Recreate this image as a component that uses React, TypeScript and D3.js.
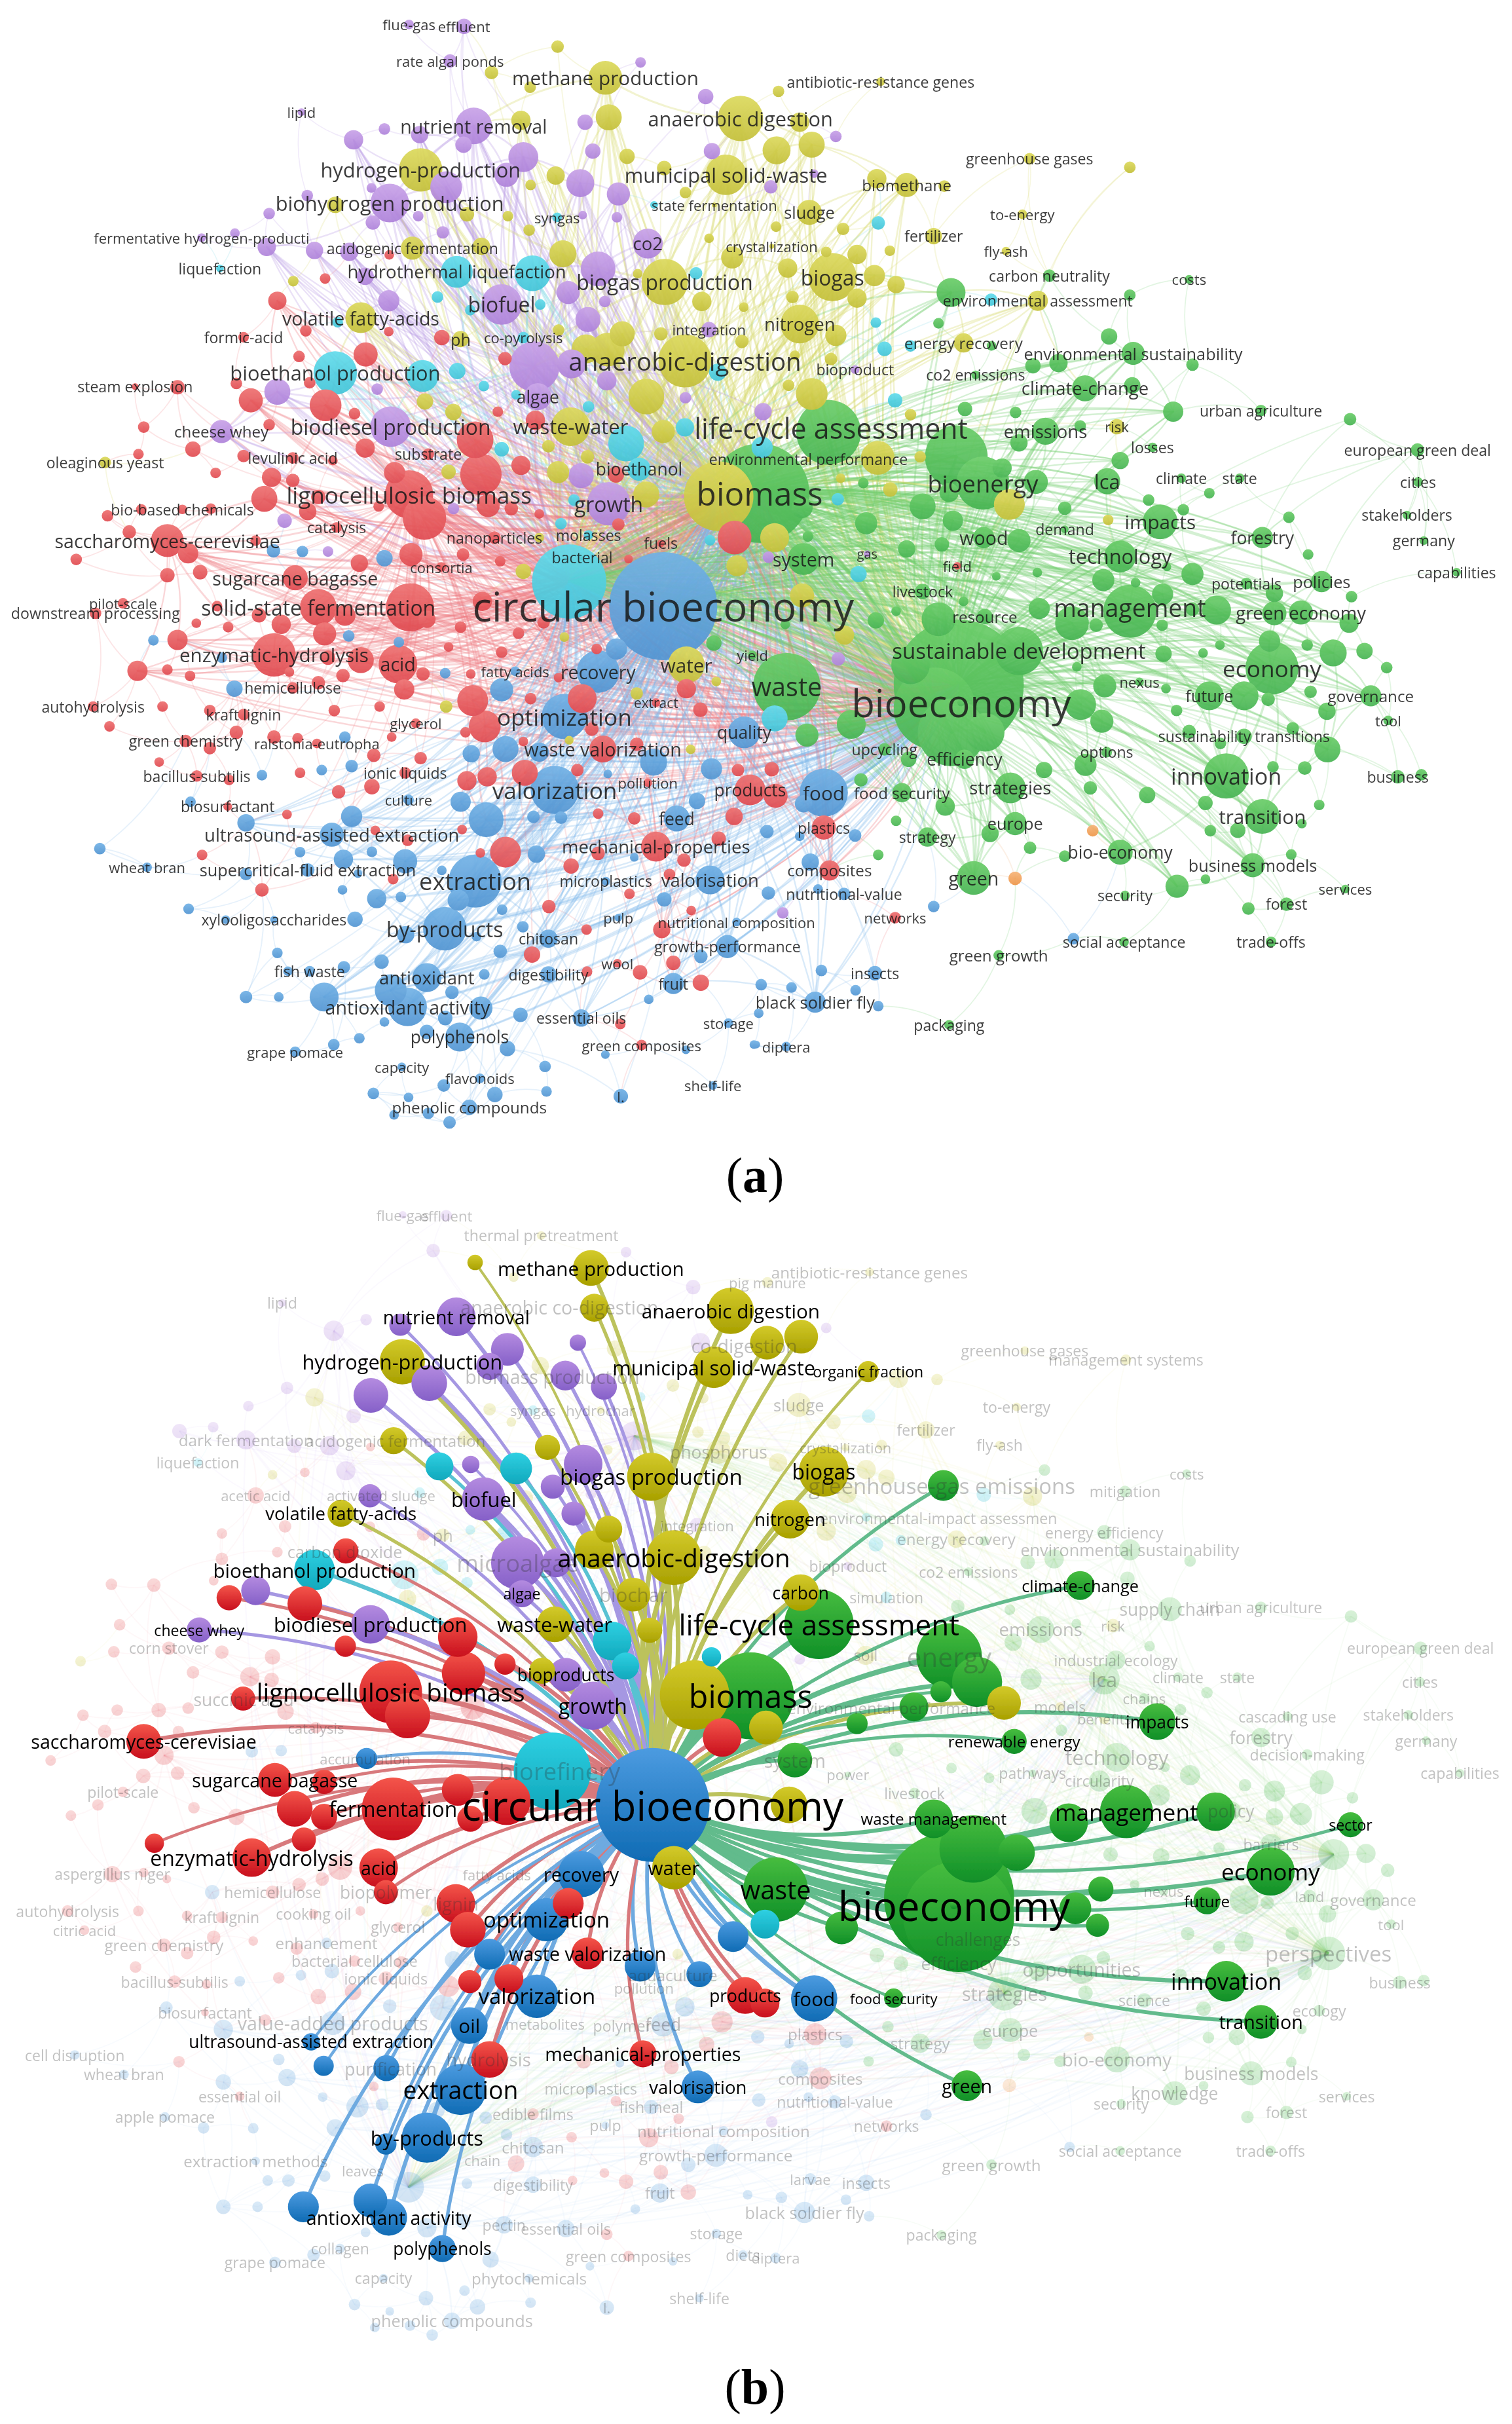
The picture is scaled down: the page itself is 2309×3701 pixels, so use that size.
import { useMemo } from "react";
import * as d3 from "d3";

// VOSviewer keyword map. Each row: cluster, map x, map y, node weight, keyword, label weight.
// Map units are one reading grid per sheet; see sheet() below.
type Row = [string, number, number, number, string?, number?];

const aNW: Row[] = [
  ["p",848,65,10,"flue-gas",20],["p",962,70,16,"effluent",20],["p",933,162,14,"rate algal ponds",20],["y",1156,124,13],["p",1328,166,11],["y",1019,193,14],
  ["y",1255,207,35,"methane production",27],["y",1099,232,12],["p",1463,257,16],["y",1262,312,27],["p",1213,325,16],["y",1535,315,47,"anaerobic digestion",28],["y",1080,320,20],
  ["p",625,298,8,"lipid",20],["p",797,343,12],["p",982,335,38,"nutrient removal",26],["p",870,358,18],["p",733,372,20],["p",961,385,17],["p",1085,418,31],["p",1229,402,16],["p",1476,402,17],["y",1300,416,16],
  ["y",872,452,45,"hydrogen-production",28],["p",925,498,33],["p",1050,465,25],["y",1152,467,19],["p",1203,487,29],["y",1100,492,11],["y",1377,447,15],["y",1505,465,42,"municipal solid-waste",28],
  ["p",1282,516,24],["y",1421,512,12],["c",1356,545,8],["y",1481,545,5,"state fermentation",20],["p",770,500,10],["p",808,540,40,"biohydrogen production",28],["y",695,545,17],["p",637,520,12],
  ["p",558,568,12],["p",867,575,11],["y",968,570,15],["y",1053,575,11],["c",1155,578,10,"syngas",20],["p",1208,572,9],["p",1279,578,11],["y",1097,612,12],["p",773,592,15],["p",918,618,13],
  ["p",418,632,9,"fermentative hydrogen-producti",20],["p",487,620,10],["p",553,657,19],["p",652,666,18],["p",724,670,19],["y",855,660,24,"acidogenic fermentation",21],["y",998,655,18],["r",807,678,10],
  ["p",1343,648,31,"co2",25],["y",1470,634,10],["y",1518,685,23],["y",1167,675,28],["y",608,748,11],["r",674,741,11],["c",456,714,8,"liquefaction",21],["c",947,723,33,"hydrothermal liquefaction",25],["c",1104,727,37],["p",757,735,18],
  ["p",1240,715,36],["y",1378,750,48,"biogas production",29],["c",1443,727,13],["y",1322,728,10],["p",1178,778,24],["p",1254,802,12],["y",1455,802,20],["y",1542,817,10],
  ["r",575,800,19],["p",806,800,22],["c",907,790,12],["p",1040,810,42,"biofuel",29],["c",1120,810,11],["c",975,825,11],["p",1219,850,26],["y",748,845,32,"volatile fatty-acids",26],["c",700,857,11],["r",634,880,12],["r",806,882,10],
  ["r",505,897,11,"formic-acid",21],["r",916,898,16],["y",955,902,17,"ph",23],["c",1085,898,12,"co-pyrolysis",20],["y",1158,878,12],["p",1470,877,16,"integration",20],["y",1370,888,14],["y",1538,908,14],
  ["y",1215,928,30],["y",1290,888,26],["y",1260,930,35],["y",1420,960,55,"anaerobic-digestion",35],["p",1108,975,52],["p",1185,968,30],["c",1488,990,18],
  ["r",620,948,12],["r",758,943,25],["c",948,987,17],["r",1047,954,14],["c",695,992,45,"bioethanol production",28],["c",876,1000,33],["p",1258,1013,20],
  ["r",368,1030,15],["r",280,1028,7,"steam explosion",21],["r",490,1020,12],["r",642,1018,12],["p",575,1042,27],["r",520,1065,25],["r",675,1078,33],["p",782,1035,12],["c",1003,1027,11],["c",1070,1050,10],["p",1115,1055,28,"algae",24],["y",1340,1055,37],["p",1421,1058,12],["y",881,1068,17],
  ["r",735,1100,12],["y",940,1096,17],["r",1032,1095,11],["c",1220,1082,12],["p",810,1135,42,"biodiesel production",29],["y",1183,1135,40,"waste-water",28],["r",1110,1118,20],["y",1375,1148,24],["c",1420,1137,19],
  ["p",459,1148,24,"cheese whey",22],["r",558,1130,12],["r",298,1136,12],["r",985,1170,38],["r",400,1195,16],["r",757,1192,20],["c",1298,1180,37],["y",1137,1187,13],["c",1040,1195,15],
  ["r",607,1218,12,"levulinic acid",21],["r",505,1213,13],["r",690,1225,10],["r",287,1208,11],["r",888,1208,12,"substrate",21],["y",218,1230,12,"oleaginous yeast",21],
  ["y",1218,1215,14],["r",1080,1238,20],["p",1205,1265,26],["c",1325,1248,24,"bioethanol",24],["y",1157,1256,23],["r",1277,1262,17],["r",997,1262,43],["y",930,1255,15],["r",447,1258,11],["r",818,1257,22],
  ["r",563,1270,20],["r",607,1278,14],["r",848,1315,50,"lignocellulosic biomass",32],["r",548,1327,27],["r",660,1322,15],["r",880,1378,45],["r",1012,1345,24],["r",785,1347,11],["p",940,1353,12],["r",1060,1353,14],
  ["y",1340,1315,27],["y",1490,1320,72],["p",1262,1340,45,"growth",29],["c",1190,1330,12],["r",1118,1367,10],
  ["r",378,1355,10,"bio-based chemicals",21],["r",293,1355,11],["r",437,1353,11],["r",223,1372,12],["r",638,1361,18],["p",590,1385,15],["c",1163,1393,12],["r",1282,1395,13],
  ["r",698,1403,11,"catalysis",21],["r",1025,1430,13,"nanoparticles",21],["y",1118,1430,10],["c",1220,1423,10,"molasses",21],["r",1523,1430,35],
  ["r",268,1415,14],["r",347,1438,34,"saccharomyces-cerevisiae",26],["r",390,1472,21],["r",530,1438,11],["c",1472,1437,11],
  ["p",680,1467,11],["b",567,1465,14],["b",627,1467,12],["r",1370,1445,8,"fuels",21],["c",1180,1547,77],["c",1207,1482,6,"bacterial",21],
  ["b",797,1485,17],["r",852,1475,24],["r",158,1488,12],["r",745,1498,18],["r",915,1508,10,"consortia",20],["r",960,1475,13],["r",1037,1493,11],["r",1303,1487,9],["y",1528,1505,22],["y",1085,1520,16],
  ["r",347,1530,15],["r",415,1522,15],["r",612,1537,26,"sugarcane bagasse",26],
];

const aNE: Row[] = [
  ["y",258,217,9,"antibiotic-resistance genes",21],["y",46,243,12],["y",90,325,20],["p",165,363,12],["y",42,400,29],["y",115,385,27],["y",567,422,12,"greenhouse gases",21],["y",775,445,12],
  ["p",120,462,9],["p",30,497,14],["y",250,475,20],["y",312,492,25,"biomethane",22],["y",390,495,12],["y",552,570,10,"to-energy",20],["y",110,565,26,"sludge",23],["c",253,593,14],["y",41,603,11],["y",180,609,13],
  ["y",368,628,17,"fertilizer",21],["y",518,668,9,"fly-ash",20],["y",32,655,5,"crystallization",20],["y",145,670,11],["y",277,667,11],["y",209,677,20],
  ["y",158,737,50,"biogas",29],["y",65,713,20],["y",245,733,22],["y",290,757,18],["y",75,790,13],["y",209,793,20],["g",608,733,13,"carbon neutrality",21],["g",898,743,9,"costs",20],
  ["g",404,778,30],["g",775,785,12],["y",584,800,21,"environmental assessment",21],["c",487,797,13],["y",90,862,40,"nitrogen",25],["c",248,858,11],["g",378,860,11],["y",165,892,22],
  ["g",732,895,17],["y",430,912,20,"energy recovery",22],["c",320,920,12],["g",488,920,10],["c",266,928,15],["y",155,955,13],["g",782,940,24,"environmental sustainability",23],["g",574,973,16],["g",627,966,19],["g",905,970,13],["y",80,945,10],
  ["p",205,983,9,"bioproduct",21],["g",455,997,9,"co2 emissions",21],["g",682,1033,27,"climate-change",25],["g",780,1025,17],["y",67,1025,12],["y",115,1048,33],["c",288,1065,15],["g",433,1088,15],["g",538,1097,12],["p",14,1095,18],["y",320,1103,12],["g",865,1095,21],["g",1047,1092,12,"urban agriculture",21],["g",1232,1115,13],
  ["g",150,1150,67],["g",155,1139,8,"life-cycle assessment",39],["g",600,1147,28,"emissions",25],["g",672,1133,12],["y",748,1135,16,"risk",20],["g",545,1178,18],["c",12,1190,22],["g",822,1190,10,"losses",21],["g",1372,1197,14,"european green deal",21],
  ["g",415,1215,65],["g",755,1225,18],["y",252,1218,35],["y",108,1222,5,"environmental performance",21],["y",340,1215,12],["g",510,1245,20],["g",470,1285,55,"bioenergy",33],["g",400,1310,20],["g",580,1282,25],["g",728,1280,27,"lca",28],["g",882,1272,10,"climate",21],["g",1003,1272,10,"state",21],["g",1373,1282,10,"cities",21],
  ["y",525,1342,32],["y",278,1302,15],["y",175,1272,10],["g",222,1285,11],["c",169,1328,13],["g",345,1347,27],["g",95,1350,22],["g",7,1312,103,"biomass",45],
  ["g",940,1312,11],["g",814,1330,12],["g",640,1352,14],["g",886,1356,12],["g",1105,1376,12],["g",1350,1370,9,"stakeholders",21],["y",730,1383,11],["g",838,1388,36,"impacts",27],["g",408,1385,21],["g",228,1392,23],["g",640,1408,8,"demand",21],["g",1050,1430,22,"forestry",24],["g",1385,1438,9,"germany",21],
  ["g",545,1438,24],["g",472,1430,22,"wood",26],["g",107,1427,11],["y",38,1430,30],["g",385,1448,15],["g",312,1460,18],["p",230,1473,7,"gas",18],["g",98,1487,33,"system",26],["p",25,1482,12],
  ["g",1145,1475,11],["g",755,1480,33,"technology",28],["g",1453,1522,9,"capabilities",21],["r",417,1505,8,"field",20],["g",852,1508,9],["c",212,1527,17],["g",905,1527,23],["g",583,1523,10],["g",498,1533,9],["g",720,1543,23],["g",1017,1552,12,"potentials",21],["g",1173,1547,22,"policies",23],["g",787,1550,10],
];

const aSW: Row[] = [
  ["b",1375,42,112,"circular bioeconomy",56],["r",850,45,50],["r",660,45,38,"solid-state fermentation",29],["r",715,65,22],["r",885,75,18],["r",537,65,15],["r",583,88,20],["r",673,112,24],["r",450,42,11],
  ["r",198,60,12,"downstream processing",21],["r",255,35,11,"pilot-scale",20],["r",407,85,10],["r",473,95,11],["b",318,128,11],["r",368,127,21],["b",723,117,12],["b",827,133,11],["r",955,95,12],["r",930,145,10],["r",1075,110,12],["r",1127,83,13],["r",1040,158,12],["r",1000,30,20],["y",1170,120,10],["b",1278,150,22],["r",1237,150,11],["g",1480,135,16],
  ["r",568,165,45,"enzymatic-hydrolysis",27],["r",825,188,40,"acid",26],["r",748,178,27],["r",680,172,15],["b",460,172,11],["r",285,205,21],["r",347,202,11],["r",394,218,11],["r",600,208,10],["r",711,217,14],["r",877,213,14],["b",923,211,11],["r",976,213,10],
  ["b",1068,206,10,"fatty acids",20],["b",1240,207,44,"recovery",26],["y",1423,190,38,"water",27],["g",1560,165,9,"yield",20],["y",1485,232,10],["r",1158,222,10],["b",486,250,17],["r",607,248,12,"hemicellulose",21],["r",660,235,14],["r",838,252,21],["b",1040,253,24],["r",1100,275,12],["y",1320,262,13],["r",1423,250,20],
  ["r",193,295,11,"autohydrolysis",21],["r",337,295,11],["r",435,305,12],["r",505,315,12,"kraft lignin",21],["r",693,305,12],["r",787,295,11],["y",925,295,13],["r",980,280,32],["r",1207,275,30],["r",1360,285,9,"extract",19],["r",1452,303,15],
  ["r",227,345,11],["r",862,337,10,"glycerol",20],["r",1005,345,33],["b",1170,320,47,"optimization",32],["r",385,382,13,"green chemistry",21],["r",490,360,14],["r",435,400,13],["r",568,372,14],["r",617,375,11],["r",657,388,10,"ralstonia-eutropha",20],["b",715,372,12],["r",812,372,10],["r",1085,383,10],["r",965,360,11],["r",1227,352,14],["b",1543,360,33,"quality",24],
  ["b",977,414,18],["b",1048,402,27],["r",1250,402,28,"waste valorization",26],["b",1118,410,20],["y",1180,380,9],["y",1432,403,10],["r",1320,390,14],["b",1355,435,28],["r",775,418,14],["r",872,425,13],
  ["r",408,470,12,"bacillus-subtilis",21],["r",475,480,11],["b",543,468,11],["r",330,435,10],["r",622,462,11],["b",667,455,11],["b",729,445,13],["r",840,462,12,"ionic liquids",21],["b",1475,452,22],["r",1530,455,13],
  ["r",702,510,14],["r",771,497,16],["r",968,482,20],["r",1010,472,20],["r",1088,462,27],["r",1197,455,13],["b",1260,465,9],["b",1150,505,50,"valorization",32],["r",1343,487,9,"pollution",20],["r",1555,505,32,"products",24],
  ["r",472,547,9,"biosurfactant",21],["b",395,535,11],["b",510,588,18],["r",595,567,10],["b",847,530,11,"culture",20],["b",955,535,21],["b",1445,533,17],["r",1240,565,11],["b",729,572,22],["b",1008,580,36],["r",1315,577,13],["b",1403,577,27,"feed",24],["r",1522,572,18],["b",1106,573,13],["b",1163,575,13],
  ["b",688,618,25,"ultrasound-assisted extraction",25],["r",778,607,10],["r",958,605,10],["r",845,632,12],["b",207,653,12],["b",622,662,11],["r",419,669,11],["b",771,661,11],["r",996,664,10],["r",1048,662,32],["b",1112,667,18],["r",1360,648,31,"mechanical-properties",25],["r",1240,665,14],["r",1490,628,15],
  ["b",305,700,10,"wheat bran",20],["b",712,680,20],["b",840,685,25],["b",916,708,10],["r",1184,697,16],["r",1418,682,14],["b",1315,675,9],["b",638,707,14,"supercritical-fluid extraction",23],["b",510,717,13],["b",742,716,9],["r",815,730,11],["r",1388,718,12],
  ["b",985,735,55,"extraction",33],["b",1256,735,9,"microplastics",21],["b",1472,732,30,"valorisation",25],["r",543,757,14],["b",710,757,10],["b",781,779,20],["b",831,775,11],["b",950,783,22],["r",1305,767,11],["b",1377,781,15],
  ["b",391,805,11],["r",1138,799,14],["b",1041,807,11],["r",1433,809,10],["b",568,832,8,"xylooligosaccharides",21],["b",468,832,9],["b",736,831,16],["b",922,855,45,"by-products",29],["b",841,870,18],["b",1282,827,8,"pulp",20],["r",1372,857,18],["b",1527,838,9,"nutritional composition",20],["b",1084,850,12],["r",1216,857,11],["b",988,875,10],
  ["b",1137,880,19,"chitosan",21],["b",1037,912,14],["r",1103,920,17],["b",1508,900,24,"growth-performance",21],["b",575,916,11],["b",1453,925,14],["b",791,938,15],["b",713,952,13],["b",597,962,10],["b",642,962,11,"fish waste",21],["b",885,978,30,"antioxidant",25],["r",1396,941,15],["r",1280,942,9,"wool",20],["b",1137,970,17,"digestibility",21],["b",1004,970,11],["r",1217,963,11],["r",1327,965,15],
  ["b",1396,993,22,"fruit",21],["r",1453,991,17],["b",810,1010,33],["b",672,1027,30],["b",937,1015,14],["b",510,1027,13],["b",578,1027,10],["b",1345,1033,10],["b",845,1052,40,"antioxidant activity",26],["b",997,1055,24],["b",923,1080,15],["b",1079,1072,15],["b",1205,1080,18,"essential oils",21],["r",1286,1095,11],["b",797,1090,10],["b",1510,1093,10,"storage",20],
  ["b",885,1115,15],["b",953,1128,30,"polyphenols",24],["b",745,1131,11],["b",692,1147,12],["b",1052,1157,16],["r",1330,1148,11,"green composites",20],["b",1255,1172,9],["b",1422,1160,9],["b",1563,1147,9],["b",612,1165,11,"grape pomace",20],["b",833,1203,9,"capacity",20],["b",1130,1202,12],["b",995,1232,10,"flavonoids",20],["b",920,1250,13],["b",1133,1265,11],["b",1478,1250,9,"shelf-life",20],["b",774,1270,12],["b",847,1280,10],["b",1026,1273,16],["b",1287,1277,15,"l.",20],["b",973,1305,16,"phenolic compounds",22],["b",817,1324,10],["b",888,1320,12],["b",932,1343,13],
];

const aSE: Row[] = [
  ["g",775,55,55],["g",775,45,8,"management",34],["g",655,85,35],["g",955,52,30],["g",474,68,16,"resource",22],["g",378,75,35],["g",587,48,22],["g",705,90,14],["g",842,90,12],["g",905,50,14],["g",1075,60,25],["g",1130,58,25,"green economy",25],["g",1230,85,20],["g",1235,18,12],["g",1075,10,18],["g",843,12,22],["g",248,78,17],["g",290,55,10],["g",60,88,10],["y",95,15,25],["g",430,30,10],["y",183,115,20],["g",345,5,16,"livestock",21],
  ["g",545,155,50,"sustainable development",30],["g",845,162,17],["g",927,160,10],["g",962,140,10],["g",1065,130,22],["g",1143,140,12],["g",1197,160,28],["g",1262,155,17],["g",1308,197,12],["g",665,195,10],["p",170,175,14],["g",1070,198,55,"economy",32],
  ["g",420,240,135],["g",425,285,8,"bioeconomy",53],["g",370,300,85],["g",405,360,70],["g",475,360,40],["g",320,190,40],["g",673,290,32],["g",795,233,9,"nexus",20],["g",723,243,24],["g",850,250,10],["g",940,268,30,"future",23],["g",1012,268,30],["g",1062,277,14],["g",1150,258,13],["g",1275,268,22,"governance",22],
  ["g",63,245,70,"waste",36],["c",38,325,27],["g",197,340,30],["g",717,332,24],["g",872,305,12],["g",1184,307,18],["g",1311,330,10,"tool",20],["g",105,367,24],["g",1012,370,16,"sustainability transitions",21],["g",898,358,14],["g",963,388,12],["g",1113,350,13],
  ["g",266,403,13,"upcycling",21],["g",432,428,20,"efficiency",24],["g",316,428,16],["g",727,410,11,"options",21],["g",1185,403,27],["r",32,453,15],["g",683,442,23],["g",597,455,17],["g",1072,447,12],["g",1138,450,14],["g",975,470,47,"innovation",31],["g",1331,472,14,"business",21],["g",1380,467,12],
  ["r",40,520,25],["b",140,512,50,"food",27],["b",98,540,18],["g",302,512,20,"food security",22],["g",527,500,32,"strategies",25],["g",217,480,14],["g",693,500,14],["g",811,518,17],["g",392,546,20],["g",932,538,15],["g",1168,543,11],["g",1050,572,36,"transition",27],["g",290,583,11],["g",537,590,24,"europe",23],["g",485,615,18],
  ["r",140,600,25,"plastics",21],["b",22,610,14],["b",90,622,10],["b",205,620,13],["g",355,624,20,"strategy",21],["o",698,608,12],["g",1132,590,10],["g",942,608,12],["g",999,607,16],["g",755,662,26,"bio-economy",24],["g",640,672,12],["g",568,651,13],["g",253,669,11],["g",1110,668,11],["r",152,708,21,"composites",22],["b",112,687,18],["g",1030,695,25,"business models",23],
  ["g",451,727,35,"green",26],["o",537,728,14],["g",873,748,24],["g",932,730,10],["b",182,767,13,"nutritional-value",21],["b",128,755,10],["b",25,765,14],["g",765,771,10,"security",21],["g",1222,755,9,"services",20],["g",1100,793,14,"forest",21],["g",1021,804,13],["b",368,799,12],["p",55,815,12],["r",288,827,12,"networks",20],
  ["b",658,880,12],["g",763,888,10,"social acceptance",21],["g",1068,888,11,"trade-offs",21],["g",503,922,11,"green growth",22],["b",135,960,12],["b",246,967,15,"insects",21],["b",10,996,12],["b",73,1003,11],["b",206,1010,11],["b",122,1040,22,"black soldier fly",23],["b",253,1050,11],["b",5,1068,10],["g",400,1097,10,"packaging",21],["b",62,1152,10,"diptera",20],["b",0,1147,8],
];

// panel (b): keywords linked to "circular bioeconomy"
const bNW: Row[] = [
  ["y",985,128,16],["y",1225,142,37,"methane production",27],["y",1232,242,29],["y",1515,250,48,"anaerobic digestion",27],["p",946,265,40,"nutrient removal",26],["p",830,285,23],["p",1052,347,34],["p",1198,330,17],["p",1015,390,28],
  ["y",834,378,47,"hydrogen-production",28],["p",890,432,37],["p",769,463,36],["p",1172,413,31],["p",1252,441,27],["y",1480,392,43,"municipal solid-waste",28],
  ["y",816,577,28],["c",911,642,29],["p",976,637,18],["c",1070,647,33],["y",1135,594,26],["p",1209,636,40],["y",1350,668,50,"biogas production",30],["p",1146,693,25],["p",1003,724,45,"biofuel",28],["p",767,716,24],["y",707,760,28,"volatile fatty-acids",25],["p",1189,761,25],["y",1262,800,28],
  ["r",717,855,26],["y",1397,872,57,"anaerobic-digestion",35],["y",1232,852,40],["p",1073,885,55],["p",1153,885,30],["c",652,903,42,"bioethanol production",27],["p",1082,963,28,"algae",21],["y",1313,965,35],["r",475,973,26],["p",530,955,30],["r",632,988,36],
  ["y",1347,1055,26],["y",1150,1040,37,"waste-water",28],["p",768,1040,40,"biodiesel production",28],["p",413,1054,26,"cheese whey",21],["r",949,1072,41],["c",1269,1082,40],["r",716,1095,22],["c",1297,1145,28],["r",961,1163,45],["r",1047,1140,22],["y",1124,1157,27],["p",1173,1167,35,"bioproducts",24],["c",1475,1122,20],
  ["r",810,1210,65,"lignocellulosic biomass",35],["r",845,1270,47],["r",504,1227,25],["p",1229,1245,50,"growth",29],["y",1440,1218,72],["g",1556,1220,90,"biomass",44],["r",1497,1325,40],["r",298,1335,36,"saccharomyces-cerevisiae",26],
  ["b",760,1378,22],["c",1145,1410,80],["b",1353,1495,118,"circular bioeconomy",56],["r",570,1432,35,"sugarcane bagasse",26],["r",672,1437,25],["r",949,1457,33],["r",611,1505,37],["r",672,1525,27],["r",815,1505,65,"fermentation",29],["r",1050,1485,50],["r",975,1530,27],
];

const bNWFaint: Row[] = [
  ["p",835,8,8,"flue-gas",20],["p",925,10,12,"effluent",20],["y",1122,60,9,"thermal pretreatment",21],["p",898,98,14],["p",1298,102,11],["y",1065,165,10],["p",1437,190,15],["p",585,230,8,"lipid",21],["y",1160,240,0,"anaerobic co-digestion",26],["p",692,300,21],["p",759,272,12],["p",1452,330,20],["y",1543,338,0,"co-digestion",26],["y",1275,345,17],
  ["y",1145,415,0,"biomass production",26],["y",1120,388,18],["p",595,444,13],["y",652,468,19],["p",515,490,11],["p",733,515,15],["c",1105,500,10,"syngas",20],["y",1245,500,8,"hydrochar",20],["y",1395,438,13],["y",1015,498,13],["c",1328,467,10],["y",1458,470,11],
  ["p",372,553,15],["p",442,543,11],["p",510,575,20,"dark fermentation",22],["y",820,577,0,"acidogenic fermentation",22],["p",610,590,15],["p",683,590,20],["r",768,593,9],["p",1315,565,30],["y",965,570,15],["y",1060,530,10],["y",1447,555,12],["y",1500,570,14],["y",1490,605,25,"phosphorus",24],["c",410,632,9,"liquefaction",21],["y",565,663,10],["r",632,657,10],["p",717,653,20],["y",1260,600,10],
  ["r",530,715,17,"acetic acid",20],["p",790,715,0,"activated sludge",20],["c",870,708,11],["c",1045,810,15],["p",1225,712,11],["y",1090,720,15],["r",460,811,11],["r",591,793,13],["r",767,794,11],["y",918,815,14,"ph",23],["r",878,812,14],["p",1445,790,15,"integration",20],["y",1370,760,12],["c",975,802,10],
  ["r",575,858,11],["r",715,857,0,"carbon dioxide",23],["r",460,875,13],["r",443,930,10],["c",912,895,17],["c",838,915,30],["y",1460,860,15],["r",231,939,12],["r",319,941,14],["c",968,935,12],["y",845,975,18],["p",1073,885,0,"microalgae",33],["y",1313,965,0,"biochar",27],
  ["r",248,1041,12],["r",460,1110,14],["r",350,1100,14,"corn stover",21],["r",236,1109,12],["y",167,1133,11],["r",400,1161,13],["r",518,1172,20],["r",563,1180,15],["r",565,1122,16],["r",505,1230,0,"succinic acid",24],["r",592,1260,17],["r",172,1269,12],["r",243,1256,12],["r",329,1256,15],["r",390,1251,12],["r",217,1310,14],["r",370,1310,12],["r",655,1300,12,"catalysis",20],["r",980,1250,25],
  ["b",522,1360,13],["b",583,1358,12],["r",340,1370,20],["r",105,1383,11],["b",757,1378,0,"accumulation",20],["r",297,1422,15],["r",368,1415,14],["r",490,1525,17],["r",255,1462,11,"pilot-scale",21],["r",203,1495,12],["r",147,1522,11],["r",402,1502,12],["c",1160,1410,0,"biorefinery",33],
];

const bNE: Row[] = [
  ["y",93,315,35],["y",22,330,35],["y",232,403,22,"organic fraction",21],["y",140,655,52,"biogas",29],["g",388,690,32],["y",70,775,40,"nitrogen",25],["g",672,942,30,"climate-change",23],["y",92,960,38,"carbon",24],["g",130,1040,72,"life-cycle assessment",40],
  ["g",400,1120,68],["g",458,1185,52],["y",514,1238,35],["g",327,1248,30],["g",383,1210,22],["g",209,1290,22],["g",832,1285,38,"impacts",24],["g",535,1335,26,"renewable energy",22],["g",80,1382,36],["y",20,1300,35],["g",953,1512,40],["g",768,1512,55,"management",32],["g",648,1540,40],["g",1233,1545,26,"sector",21],["g",368,1530,40,"waste management",22],["y",68,1495,38],
];

const bNEFaint: Row[] = [
  ["y",235,152,9,"antibiotic-resistance genes",22],["y",23,178,11,"pig manure",20],["p",145,293,11],["y",557,350,9,"greenhouse gases",21],["y",767,373,11,"management systems",21],["y",375,423,12],["y",295,420,20],["y",88,487,25,"sludge",23],["y",540,492,9,"to-energy",21],["c",233,515,14],["y",160,530,15],["y",352,550,18,"fertilizer",21],["y",505,588,9,"fly-ash",21],["y",260,588,11],["y",185,595,8,"crystallization",20],["y",228,650,20],["y",270,670,17],["y",45,632,19],["g",598,651,12],
  ["g",385,690,0,"greenhouse-gas emissions",30],["g",765,705,12,"mitigation",21],["g",893,660,9,"costs",20],["y",188,710,20],["y",573,717,20],["c",472,713,15],["y",378,772,0,"environmental-impact assessmen",21],["c",228,770,9],["y",145,805,20],["g",722,808,15,"energy efficiency",21],["y",415,825,18,"energy recovery",22],["c",300,828,11],["c",248,838,15],["g",473,830,10],["p",190,893,9,"bioproduct",21],["g",440,907,9,"co2 emissions",21],["g",775,852,22,"environmental sustainability",23],["g",563,883,15],["g",618,875,20],["g",900,880,12],["g",770,925,15],
  ["c",270,972,12,"simulation",21],["g",418,995,14],["g",526,1003,11],["g",858,1002,25,"supply chain",24],["g",1047,997,12,"urban agriculture",21],["g",1234,1020,13],["g",590,1053,28,"emissions",25],["y",740,1043,14,"risk",20],["g",533,1085,18],["g",664,1038,10],["g",816,1095,11],["g",1378,1100,14,"european green deal",21],["p",90,1128,11],["y",227,1118,20,"soil",21],["g",746,1130,20,"industrial ecology",21],["g",722,1178,32,"lca",28],["g",875,1173,10,"climate",21],["g",998,1173,10,"state",21],["g",1377,1185,10,"cities",21],["g",570,1178,22],["g",935,1212,12],["g",805,1227,11,"chains",20],
  ["y",280,1250,0,"environmental performance",22],["y",630,1247,9,"models",21],["g",880,1255,12],["y",722,1278,11,"benefits",20],["g",1102,1272,10,"cascading use",21],["g",1353,1268,10,"stakeholders",21],["g",1047,1325,20,"forestry",24],["g",1390,1333,9,"germany",21],["g",633,1307,12],["g",748,1375,30,"technology",28],["g",1143,1368,11,"decision-making",21],["g",848,1400,10],["g",290,1355,15],["g",405,1402,11],["g",483,1427,11],["g",573,1415,8,"pathways",21],["g",1460,1415,9,"capabilities",21],["g",190,1418,6,"power",20],["g",712,1435,22,"circularity",21],["g",900,1420,21],["g",1014,1445,13],["g",1173,1438,25],["g",1075,1460,22],["g",836,1470,22],["g",328,1465,11,"livestock",21],["g",1237,1477,12],["g",1130,1518,23],["g",1075,1525,18],["g",985,1510,20,"policy",24],["g",577,1510,27],["g",400,1120,0,"energy",37],["g",80,1382,0,"system",26],
];

const bSW: Row[] = [
  ["r",320,25,20],["r",630,15,25],["r",522,63,40,"enzymatic-hydrolysis",29],["r",785,90,40,"acid",26],["r",800,155,25],["b",1205,107,48,"recovery",26],["y",1397,90,45,"water",27],["r",945,185,40],["r",1178,185,32],["b",1133,228,45,"optimization",30],["r",970,255,37],["b",1015,320,32],["r",1218,318,33,"waste valorization",26],["b",1327,352,32],["b",1520,273,32],["b",1450,373,27],["r",974,393,24],["r",1055,385,30],["b",1113,432,45,"valorization",30],["r",1545,430,38,"products",24],
  ["b",973,510,38,"oil",27],["b",645,553,18,"ultrasound-assisted extraction",24],["b",671,617,21],["b",801,623,27],["r",1015,600,38],["r",1333,585,28,"mechanical-properties",26],["b",955,680,53,"extraction",34],["b",1447,673,34,"valorisation",25],["b",885,808,52,"by-products",28],["b",800,825,22],["b",629,992,32],["b",768,975,35],["b",806,1020,38,"antioxidant activity",26],["b",917,1103,28,"polyphenols",24],
];

const bSWFaint: Row[] = [
  ["r",233,107,17,"aspergillus niger",21],["r",298,103,10],["r",346,120,9],["r",800,155,0,"biopolymer",24],["b",440,155,15],["r",565,155,14,"hemicellulose",21],["r",620,135,14],["r",668,120,14],["r",705,90,25],["b",1030,108,0,"fatty acids",20],["r",140,205,12,"autohydrolysis",21],["r",287,205,11],["r",650,213,10,"cooking oil",21],["r",460,222,12,"kraft lignin",21],["r",388,218,11],["r",747,205,10],["y",885,205,12],["r",175,256,10,"citric acid",20],["r",825,248,10,"glycerol",21],["r",340,296,14,"green chemistry",22],["r",525,285,10],["b",677,290,11,"enhancement",22],["r",443,275,14],["r",388,317,13],["r",615,305,13],["r",281,354,12],["r",735,338,12,"bacterial cellulose",21],["r",832,342,13],["b",688,365,15],["b",940,335,18],["y",1405,320,11],["b",1395,375,0,"aquaculture",22],
  ["r",362,393,13,"bacillus-subtilis",21],["r",428,400,10],["b",497,392,11],["r",578,383,12],["b",624,376,11],["r",800,385,15,"ionic liquids",21],["r",930,405,22],["r",732,420,17],["r",660,433,16],["r",1335,410,0,"pollution",20],["r",425,475,8,"biosurfactant",21],["b",345,462,13],["b",463,520,20],["r",550,495,12],["b",690,503,25,"value-added products",26],["b",808,458,14],["b",918,462,27],["b",1130,505,0,"metabolites",20],["r",1290,510,0,"polymer",21],["b",1375,507,25,"feed",24],["b",1420,460,20],["r",1497,500,22],["r",1465,560,16],
  ["b",155,588,10,"cell disruption",21],["r",371,606,12],["b",578,600,12],["b",595,648,18],["b",463,660,16],["b",257,640,10,"wheat bran",21],["b",810,625,0,"purification",24],["r",1210,605,15],["b",1285,610,9],["r",1392,620,15],["r",497,698,10,"essential oil",21],["b",669,700,10],["r",775,672,10],["b",741,725,23],["b",792,720,13],["b",1225,678,9,"microplastics",21],["b",342,753,10,"apple pomace",21],["r",1105,745,12,"edible films",21],["b",1007,755,13],["b",1350,727,15,"fish meal",21],["r",1277,711,11],["r",1407,758,11],["b",422,782,12],["b",525,783,11],["b",695,782,18],["r",1185,807,11],["b",1255,775,8,"pulp",21],["b",1500,790,10,"nutritional composition",22],["r",1345,808,20],["b",905,735,17],
  ["b",1105,833,21,"chitosan",22],["b",1050,800,12],["r",1070,877,17],["r",1000,868,0,"chain",20],["b",1484,855,24,"growth-performance",22],["b",1427,880,15],["b",530,870,9,"extraction methods",22],["b",752,895,0,"leaves",20],["b",673,910,12],["b",555,922,11],["b",598,922,13],["b",847,940,32],["r",1253,902,10],["r",1370,900,15],["r",1298,925,15],["r",1187,922,10],["b",1105,933,17,"digestibility",21],["b",968,930,11],["b",1368,955,20,"fruit",21],["r",1427,953,16],["b",1317,998,10],["b",463,992,15],["b",534,992,11],["b",1550,960,10],
  ["b",1045,1040,18,"pectin",21],["b",885,1048,20],["b",960,1030,15],["b",1173,1050,18,"essential oils",21],["r",1258,1065,12],["b",1485,1063,10,"storage",21],["b",758,1060,10],["b",705,1103,10,"collagen",21],["b",650,1120,13],["r",1303,1123,11,"green composites",21],["b",1223,1150,9],["b",1395,1137,9],["b",1017,1132,17],["b",1540,1120,10,"diets",21],["b",570,1140,12,"grape pomace",21],["b",795,1182,9,"capacity",21],["b",1097,1182,9,"phytochemicals",22],["b",1450,1235,9,"shelf-life",21],["b",963,1215,11],["b",883,1235,15],["b",1100,1247,11],["b",735,1252,12],["b",990,1258,16],["b",1258,1260,15,"l.",20],["b",937,1295,17,"phenolic compounds",23],["b",808,1270,9],["b",777,1313,10],["b",850,1308,11],["b",896,1333,12],["r",1013,600,0,"hydrolysis",25],["r",945,185,0,"lignin",25],
];

const bSE: Row[] = [
  ["g",400,170,135],["g",410,190,8,"bioeconomy",56],["g",540,50,38],["g",450,40,70],["g",420,220,115],["g",1067,100,50,"economy",32],["g",40,148,67,"waste",36],["c",18,240,30],["g",177,250,34],["g",662,198,33],["g",715,147,26],["g",708,243,24],["g",935,178,28,"future",22],["g",975,392,42,"innovation",31],["b",120,438,48,"food",27],["r",18,450,30],["g",285,437,20,"food security",20],["g",1047,500,35,"transition",26],["g",437,670,32,"green",26],
];

const bSEFaint: Row[] = [
  ["g",1068,28,22,"barriers",21],["g",1198,55,32],["g",1265,52,20],["g",1310,97,14],["g",960,38,12],["g",735,55,15],["g",840,60,17],["g",923,58,10],["g",785,135,10],["g",845,152,10,"nexus",20],["g",1148,165,13,"land",20],["g",1012,175,30],["g",1060,183,14],["g",1280,175,22,"governance",22],["g",1185,213,18],["g",1317,240,10,"tool",20],["g",895,265,14],["g",1112,265,14],["g",1012,287,20],["g",960,302,13],["g",1187,318,35,"perspectives",30],["g",250,322,15],["g",720,330,14],["g",420,345,22,"efficiency",24],["g",300,345,15],["g",675,360,30,"opportunities",26],["g",585,365,20],["g",1072,370,13],["g",1138,370,15],["g",515,425,35,"strategies",26],["g",683,423,15],["g",1335,395,14,"business",21],["g",1385,390,12],["g",880,375,13],["g",805,443,15,"science",21],["g",928,465,15],["g",1168,470,12,"ecology",21],["g",1132,520,10],["g",938,542,12],["g",997,540,17],["g",527,522,25,"europe",23],["g",470,548,20],
  ["r",122,533,23,"plastics",22],["b",187,552,14],["b",68,558,10],["b",3,540,14],["g",273,513,12],["g",340,557,20,"strategy",22],["o",690,540,10],["g",748,600,27,"bio-economy",25],["g",630,605,12],["g",555,588,13],["g",1110,607,11],["g",1027,637,25,"business models",24],["r",133,650,23,"composites",22],["b",90,625,18],["g",233,605,11],["o",525,669,14],["g",868,690,25,"knowledge",24],["g",928,670,10],["g",757,718,10,"security",21],["b",163,713,14,"nutritional-value",21],["b",108,700,10],["b",5,708,14],["g",1225,698,9,"services",21],["g",1100,741,14,"forest",21],["g",1019,753,13],["b",352,747,12],["p",32,766,12],["r",270,777,12,"networks",21],
  ["b",650,833,11],["g",755,843,10,"social acceptance",21],["g",1067,843,11,"trade-offs",21],["g",488,880,11,"green growth",22],["b",112,918,12,"larvae",20],["b",228,928,17,"insects",21],["b",52,967,12],["b",186,973,11],["b",100,1007,22,"black soldier fly",23],["b",234,1017,11],["g",384,1067,10,"packaging",21],["b",40,1128,11,"diptera",20],["g",460,280,0,"challenges",24],
];

const clusterIds = ["r", "g", "b", "y", "p", "c", "o"];
const nodeTop = ["#ee7070", "#6acd68", "#72b2e6", "#dcd95c", "#c8a2e8", "#62dcec", "#f7b478"];
const nodeBottom = ["#e04a50", "#47b453", "#5295d2", "#c4c03a", "#ae82da", "#42c4d8", "#ee9648"];
const hiTop = ["#f4554a", "#47bd3f", "#4c9be0", "#d3ca2a", "#b48be0", "#2fd0e2", "#f2a35c"];
const hiBottom = ["#c80f1d", "#0f8f28", "#0f6bb4", "#a8a000", "#8560c8", "#10a8bc", "#e08a3a"];
const hiLine = ["#d8797c", "#62bb8c", "#6eaae0", "#bcc25c", "#a597e2", "#58c2d2", "#e9a86c"];
const linkColor = ["#ee7c80", "#6fce6c", "#80b8ea", "#d5d862", "#bb9ae6", "#7fd8e6", "#f2b684"];

const colorOf = (range: string[]) => d3.scaleOrdinal<string, string>().domain(clusterIds).range(range);

type Node = { c: string; x: number; y: number; r: number; label?: string; font: number };

const fontScale = d3.scaleLinear().domain([0, 60]).range([0, 66]);

// each sheet of rows was read on a 1568 unit grid laid over one part of the figure
function sheet(rows: Row[], x0: number, y0: number, w: number, h: number): Node[] {
  const x = d3.scaleLinear().domain([0, 1568]).range([x0, x0 + w]);
  const y = d3.scaleLinear().domain([0, 1568]).range([y0, y0 + h]);
  const r = d3.scaleLinear().domain([0, 1568]).range([0, w]);
  return rows.map((d) => ({ c: d[0], x: x(d[1]), y: y(d[2]), r: r(d[3]), label: d[4], font: fontScale(d[5] ?? 0) }));
}

// VOSviewer style arc between two keywords
function arc(a: Node, b: Node, bend: number, up?: boolean) {
  const dx = b.x - a.x;
  const dy = b.y - a.y;
  let cx = (a.x + b.x) / 2 - dy * bend;
  let cy = (a.y + b.y) / 2 + dx * bend;
  if (up !== undefined) {
    const mid = (a.y + b.y) / 2;
    if ((cy < mid) !== up) {
      cx = a.x + b.x - cx;
      cy = a.y + b.y - cy;
    }
  }
  const p = d3.path();
  p.moveTo(a.x, a.y);
  p.quadraticCurveTo(cx, cy, b.x, b.y);
  return p.toString();
}

// no link table survives in the figure, so background links go to nearby bigger keywords and cluster hubs
function backgroundLinks(nodes: Node[]) {
  const real = nodes.filter((n) => n.r > 5);
  const hub = new Map<string, Node>();
  real.forEach((n) => {
    const h = hub.get(n.c);
    if (!h || n.r > h.r) hub.set(n.c, n);
  });
  const top = [...real].sort((p, q) => q.r - p.r).slice(0, 6);
  const links: { d: string; c: string; w: number; o: number }[] = [];
  real.forEach((n) => {
    const near = real
      .filter((m) => m !== n && m.r > n.r)
      .sort((p, q) => d3.polygonLength([[p.x, p.y], [n.x, n.y]]) - d3.polygonLength([[q.x, q.y], [n.x, n.y]]))
      .slice(0, 2);
    const targets = new Set<Node>(near);
    const h = hub.get(n.c);
    if (h && h !== n && n.r > 9) targets.add(h);
    if (n.r > 13) top.forEach((t) => t !== n && targets.add(t));
    targets.forEach((t) =>
      links.push({
        d: arc(n, t, 0.14),
        c: n.c,
        w: Math.max(1.6, Math.sqrt(Math.min(n.r, t.r)) * 0.6),
        o: n.r > 13 ? 0.3 : 0.2,
      })
    );
  });
  return links;
}

const Labels = ({ nodes, fill, opacity }: { nodes: Node[]; fill: string; opacity: number }) => (
  <g fontFamily="'Open Sans', sans-serif" fill={fill} fillOpacity={opacity} textAnchor="middle" dominantBaseline="central">
    {nodes.filter((n) => n.label).map((n, i) => (
      <text key={i} x={n.x} y={n.y} fontSize={n.font}>{n.label}</text>
    ))}
  </g>
);

const Circles = ({ nodes, prefix, opacity }: { nodes: Node[]; prefix: string; opacity: number }) => (
  <g opacity={opacity === 1 ? undefined : opacity}>
    {[...nodes].filter((n) => n.r > 0).sort((p, q) => q.r - p.r).map((n, i) => (
      <circle key={i} cx={n.x} cy={n.y} r={n.r} fill={`url(#${prefix}-${n.c})`} />
    ))}
  </g>
);

const Grad = ({ prefix, top, bottom }: { prefix: string; top: string[]; bottom: string[] }) => {
  const t = colorOf(top);
  const b = colorOf(bottom);
  return (
    <>
      {clusterIds.map((c) => (
        <linearGradient key={c} id={`${prefix}-${c}`} x1="0" y1="0" x2="0" y2="1">
          <stop offset="0" stopColor={t(c)} />
          <stop offset="1" stopColor={b(c)} />
        </linearGradient>
      ))}
    </>
  );
};

export default function App() {
  const W = 2309;
  const H = 3701;

  const mapA = useMemo(
    () => [
      ...sheet(aNW, 0, 0, 1155, 900),
      ...sheet(aNE, 1155, 0, 1154, 900),
      ...sheet(aSW, 0, 900, 1155, 950),
      ...sheet(aSE, 1155, 900, 1154, 950),
    ],
    []
  );
  const hiB = useMemo(
    () => [
      ...sheet(bNW, 0, 1850, 1155, 950),
      ...sheet(bNE, 1155, 1850, 1154, 950),
      ...sheet(bSW, 0, 2800, 1155, 900),
      ...sheet(bSE, 1155, 2800, 1154, 900),
    ],
    []
  );
  const faintB = useMemo(
    () => [
      ...sheet(bNWFaint, 0, 1850, 1155, 950),
      ...sheet(bNEFaint, 1155, 1850, 1154, 950),
      ...sheet(bSWFaint, 0, 2800, 1155, 900),
      ...sheet(bSEFaint, 1155, 2800, 1154, 900),
    ],
    []
  );

  const linksA = useMemo(() => backgroundLinks(mapA), [mapA]);
  const linksB = useMemo(() => backgroundLinks(faintB), [faintB]);

  const lineTint = colorOf(hiLine);
  const linkTint = colorOf(linkColor);

  const centre = hiB.find((n) => n.label === "circular bioeconomy") as Node;
  const centreLinks = hiB
    .filter((n) => n !== centre && n.r > 5)
    .map((n) => ({
      d: arc(centre, n, 0.16, !(n.x > centre.x && n.y > centre.y)),
      c: n.c,
      w: Math.max(4, Math.sqrt(n.r) * 1.15),
    }));

  return (
    <svg width={W} height={H} viewBox={`0 0 ${W} ${H}`} style={{ position: "absolute", left: 0, top: 0, display: "block", background: "#fff" }}>
      <defs>
        <Grad prefix="a" top={nodeTop} bottom={nodeBottom} />
        <Grad prefix="h" top={hiTop} bottom={hiBottom} />
        <filter id="soft" x="0" y="0" width="1" height="1" filterUnits="objectBoundingBox">
          <feGaussianBlur stdDeviation="0.7" />
        </filter>
      </defs>

      <g filter="url(#soft)">
        <rect width={W} height={H} fill="#fff" />

        {/* (a) full map */}
        <g fill="none" strokeLinecap="round">
          {linksA.map((l, i) => (
            <path key={i} d={l.d} stroke={linkTint(l.c)} strokeWidth={l.w} strokeOpacity={l.o} />
          ))}
        </g>
        <Circles nodes={mapA} prefix="a" opacity={0.92} />
        <Labels nodes={mapA} fill="#1a1a1a" opacity={0.86} />

        {/* (b) links of circular bioeconomy */}
        <g fill="none">
          {linksB.map((l, i) => (
            <path key={i} d={l.d} stroke={linkTint(l.c)} strokeWidth={l.w} strokeOpacity={0.06} />
          ))}
        </g>
        <Circles nodes={faintB} prefix="a" opacity={0.26} />
        <g fill="none" strokeLinecap="round">
          {centreLinks.map((l, i) => (
            <path key={i} d={l.d} stroke={lineTint(l.c)} strokeWidth={l.w} />
          ))}
        </g>
        <Circles nodes={hiB} prefix="h" opacity={1} />
        <Labels nodes={faintB} fill="#333" opacity={0.3} />
        <Labels nodes={hiB} fill="#000" opacity={1} />
      </g>

      <g fontFamily="'Liberation Serif', serif" fontSize={76} textAnchor="middle" fill="#000">
        <text x={1153} y={1820}>(<tspan fontWeight="bold">a</tspan>)</text>
        <text x={1153} y={3670}>(<tspan fontWeight="bold">b</tspan>)</text>
      </g>
    </svg>
  );
}
